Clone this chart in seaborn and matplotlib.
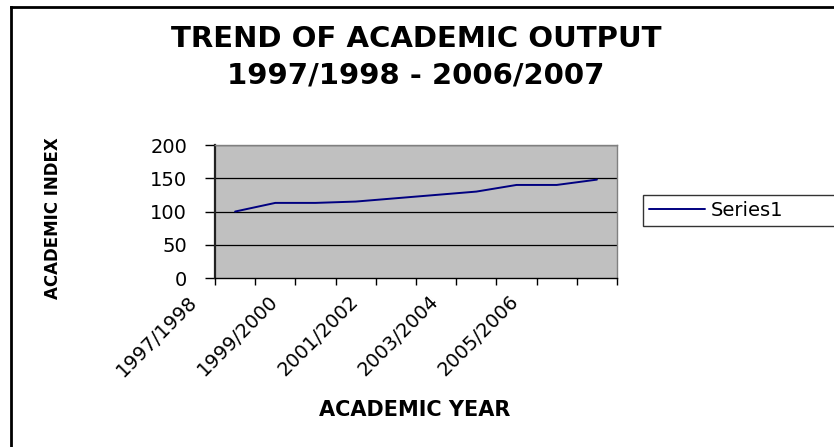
import matplotlib
matplotlib.use("Agg")
import matplotlib.pyplot as plt
from matplotlib.lines import Line2D
import seaborn as sns
import pandas as pd

years = ["1997/1998", "1998/1999", "1999/2000", "2000/2001", "2001/2002",
         "2002/2003", "2003/2004", "2004/2005", "2005/2006", "2006/2007"]
index_values = [100, 113, 113, 115, 120, 125, 130, 140, 140, 148]
shown_labels = ["1997/1998", "1999/2000", "2001/2002", "2003/2004", "2005/2006"]
y_ticks = [0, 50, 100, 150, 200]

df = pd.DataFrame({"pos": range(len(years)), "value": index_values})

sns.set_style("white")
plt.rcParams["font.family"] = ["DejaVu Sans"]
plt.rcParams["text.color"] = "black"
plt.rcParams["xtick.color"] = "black"
plt.rcParams["ytick.color"] = "black"
plt.rcParams["axes.labelcolor"] = "black"

fig = plt.figure(figsize=(8.34, 4.47), dpi=100)
ax = fig.add_axes([0.2578, 0.378, 0.482, 0.2975])
ax.set_facecolor("#c0c0c0")

# gridlines like the excel chart
for y in y_ticks[1:]:
    ax.axhline(y, color="black", lw=0.9, zorder=1)

sns.lineplot(data=df, x="pos", y="value", ax=ax, color="#000080", lw=1.4,
             label="Series1", legend=False, zorder=3)

ax.set_xlim(-0.5, len(years) - 0.5)
ax.set_ylim(0, 200)
ax.set_yticks(y_ticks)
ax.set_yticklabels([str(v) for v in y_ticks], fontsize=14)

# ticks at category boundaries
ax.set_xticks([i - 0.5 for i in range(len(years) + 1)])
ax.set_xticklabels([])

# every other year labelled, slanted and set a bit left like excel does
for i, yr in enumerate(years):
    if yr in shown_labels:
        ax.annotate(yr, xy=(i, 0), xycoords=ax.get_xaxis_transform(),
                    xytext=(-34, -10), textcoords="offset points",
                    ha="right", va="top", rotation=45, rotation_mode="anchor",
                    fontsize=14, annotation_clip=False)

ax.tick_params(axis="x", which="major", direction="out", length=5, width=1,
               color="black", bottom=True)
ax.tick_params(axis="y", direction="out", length=7, width=1, color="black",
               left=True, pad=13)

for side in ["top", "right"]:
    ax.spines[side].set_color("#808080")
    ax.spines[side].set_linewidth(1)
ax.spines["left"].set_color("#222222")
ax.spines["left"].set_linewidth(1.6)
ax.spines["bottom"].set_color("black")
ax.spines["bottom"].set_linewidth(1)

ax.set_xlabel("")
ax.set_ylabel("")

fig.text(0.4988, 0.912, "TREND OF ACADEMIC OUTPUT", ha="center", va="center",
         fontsize=21, fontweight="bold")
fig.text(0.4988, 0.832, "1997/1998 - 2006/2007", ha="center", va="center",
         fontsize=21, fontweight="bold")
fig.text(0.4976, 0.083, "ACADEMIC YEAR", ha="center", va="center",
         fontsize=15, fontweight="bold")
fig.text(0.0635, 0.512, "ACADEMIC INDEX", ha="center", va="center",
         rotation=90, fontsize=12, fontweight="bold")

handles, labels = ax.get_legend_handles_labels()
leg = fig.legend(handles, labels, loc="center left", mode="expand",
                 bbox_to_anchor=(0.771, 0.49, 0.3, 0.078), borderaxespad=0,
                 fontsize=14, frameon=True, fancybox=False, edgecolor="black",
                 handlelength=2.9, handletextpad=0.3, borderpad=0.3)
leg.get_frame().set_linewidth(1)

# only the left and top edges of the chart border are visible
fig.lines.append(Line2D([10.5 / 834, 10.5 / 834], [0, 1 - 7 / 447],
                        transform=fig.transFigure, color="black", lw=2,
                        solid_capstyle="projecting"))
fig.lines.append(Line2D([10.5 / 834, 1], [1 - 7 / 447, 1 - 7 / 447],
                        transform=fig.transFigure, color="black", lw=2,
                        solid_capstyle="projecting"))

fig.savefig("out.png", dpi=100)
